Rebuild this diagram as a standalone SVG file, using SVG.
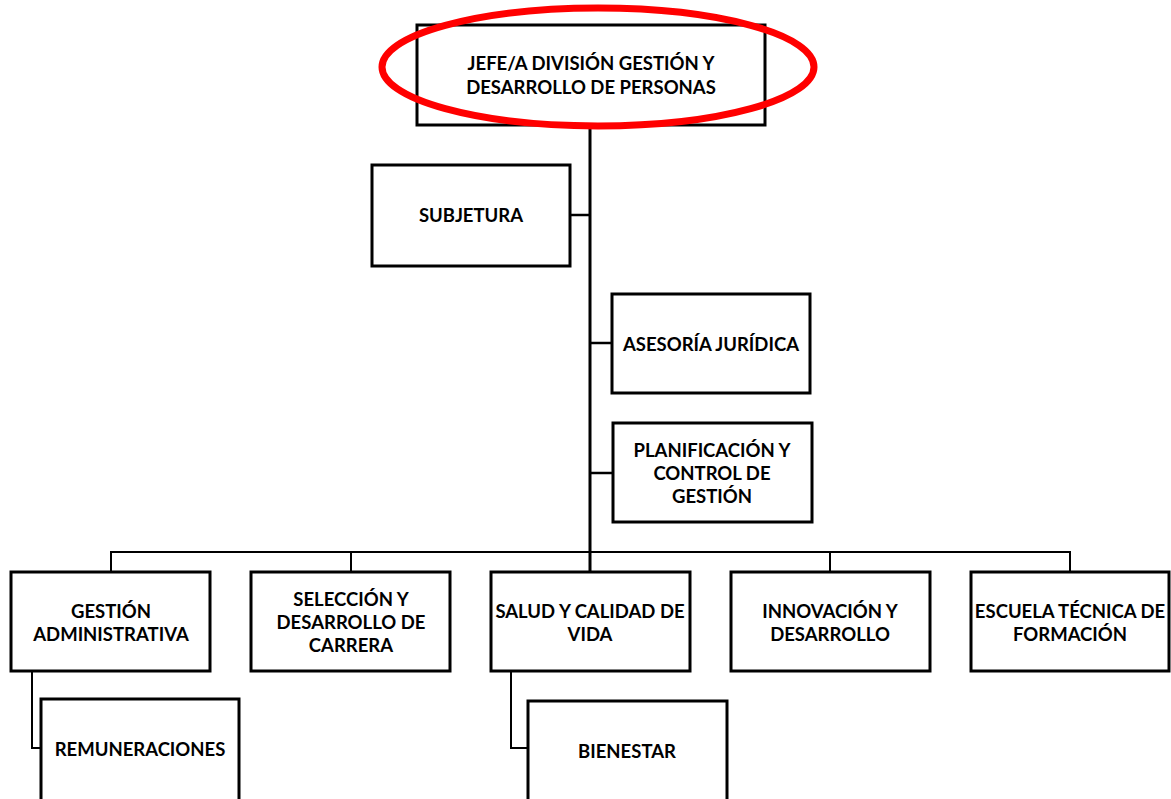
<svg xmlns="http://www.w3.org/2000/svg" width="1171" height="799" viewBox="0 0 1171 799">
<style>
.box{fill:#fff;stroke:#000;stroke-width:3}
.t{font-family:Lato,"Open Sans","Liberation Sans",sans-serif;font-weight:bold;font-size:18.5px;fill:#000;text-anchor:middle}
.c{fill:none;stroke:#000}
</style>
<rect width="1171" height="799" fill="#fff"/>
<g id="connectors">
<line class="c" x1="590" y1="125" x2="590" y2="572" stroke-width="3"/>
<line class="c" x1="570" y1="215" x2="590" y2="215" stroke-width="2.5"/>
<line class="c" x1="590" y1="343" x2="612" y2="343" stroke-width="2.5"/>
<line class="c" x1="590" y1="473" x2="613" y2="473" stroke-width="2.5"/>
<polyline class="c" points="111,572 111,552 1070,552 1070,572" stroke-width="2"/>
<line class="c" x1="351" y1="552" x2="351" y2="572" stroke-width="2"/>
<line class="c" x1="830" y1="552" x2="830" y2="572" stroke-width="2"/>
<polyline class="c" points="32,671 32,748 41,748" stroke-width="2"/>
<polyline class="c" points="511,671 511,748 528,748" stroke-width="2"/>
</g>
<g id="jefe">
<rect class="box" x="417" y="25" width="348" height="100"/>
<text class="t" x="591" y="70">JEFE/A DIVISIÓN GESTIÓN Y</text>
<text class="t" x="591" y="94">DESARROLLO DE PERSONAS</text>
</g>
<g id="subjetura">
<rect class="box" x="372" y="165" width="198" height="101"/>
<text class="t" x="471" y="222">SUBJETURA</text>
</g>
<g id="asesoria">
<rect class="box" x="612" y="294" width="198" height="99"/>
<text class="t" x="711" y="351">ASESORÍA JURÍDICA</text>
</g>
<g id="planificacion">
<rect class="box" x="613" y="423" width="199" height="99"/>
<text class="t" x="712" y="457">PLANIFICACIÓN Y</text>
<text class="t" x="712" y="480">CONTROL DE</text>
<text class="t" x="712" y="503">GESTIÓN</text>
</g>
<g id="gestion">
<rect class="box" x="11" y="572" width="199" height="99"/>
<text class="t" x="111" y="618">GESTIÓN</text>
<text class="t" x="111" y="641">ADMINISTRATIVA</text>
</g>
<g id="seleccion">
<rect class="box" x="251" y="572" width="199" height="99"/>
<text class="t" x="351" y="606">SELECCIÓN Y</text>
<text class="t" x="351" y="629">DESARROLLO DE</text>
<text class="t" x="351" y="652">CARRERA</text>
</g>
<g id="salud">
<rect class="box" x="491" y="572" width="199" height="99"/>
<text class="t" x="590" y="618">SALUD Y CALIDAD DE</text>
<text class="t" x="590" y="641">VIDA</text>
</g>
<g id="innovacion">
<rect class="box" x="731" y="572" width="199" height="99"/>
<text class="t" x="830" y="618">INNOVACIÓN Y</text>
<text class="t" x="830" y="641">DESARROLLO</text>
</g>
<g id="escuela">
<rect class="box" x="971" y="572" width="198" height="99"/>
<text class="t" x="1070" y="618">ESCUELA TÉCNICA DE</text>
<text class="t" x="1070" y="641">FORMACIÓN</text>
</g>
<g id="remuneraciones">
<rect class="box" x="41" y="699" width="198" height="110"/>
<text class="t" x="140" y="756">REMUNERACIONES</text>
</g>
<g id="bienestar">
<rect class="box" x="528" y="701" width="199" height="110"/>
<text class="t" x="627" y="758">BIENESTAR</text>
</g>
<ellipse id="highlight" cx="598" cy="67" rx="216" ry="59" fill="none" stroke="#ff0000" stroke-width="7"/>
</svg>
